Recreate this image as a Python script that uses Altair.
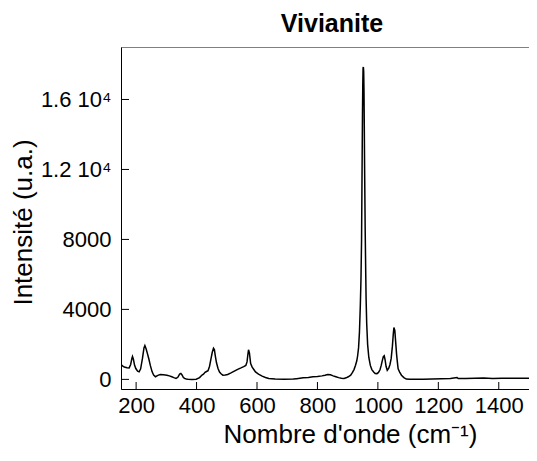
import altair as alt
import pandas as pd

wavenumber = [150, 156, 161, 170, 177, 182, 186, 188, 191, 195, 199, 205, 210, 215, 221, 226, 229, 233, 237, 242,
              247, 253, 258, 264, 272, 280, 290, 302, 310, 318, 325, 332, 338, 344, 348, 352, 356, 360, 366, 372,
              385, 399, 410, 418, 423, 428, 433, 438, 443, 448, 452, 456, 459, 462, 466, 471, 476, 481, 487, 495,
              503, 514, 525, 536, 547, 556, 563, 567, 570, 572, 575, 579, 584, 590, 595, 605, 617, 628, 639, 660,
              690, 720, 731, 753, 770, 785, 800, 815, 825, 834, 843, 852, 861, 870, 879, 888, 895, 902, 910, 916,
              921, 926, 930, 933, 936, 939, 942, 944, 946, 947, 948, 949, 950, 951, 952, 953, 954, 955, 956, 958,
              960, 961, 963, 966, 970, 975, 980, 986, 991, 997, 1002, 1007, 1011, 1015, 1018, 1021, 1024, 1027, 1031, 1036,
              1040, 1044, 1048, 1051, 1053, 1056, 1059, 1062, 1065, 1067, 1072, 1078, 1086, 1094, 1105, 1121, 1150, 1180, 1210, 1240,
              1262, 1266, 1290, 1320, 1350, 1380, 1410, 1440, 1470, 1500]
intensity = [845, 760, 710, 670, 655, 850, 1200, 1310, 1150, 800, 620, 470, 430, 600, 1200, 1800, 1930, 1750, 1500, 1180,
             800, 430, 250, 150, 230, 280, 260, 240, 200, 150, 100, 55, 120, 300, 340, 250, 120, 55, 20, 5,
             0, 5, 100, 250, 300, 400, 450, 500, 750, 1200, 1550, 1780, 1700, 1350, 950, 620, 420, 320, 240, 250,
             280, 370, 470, 570, 655, 730, 800, 1000, 1450, 1690, 1500, 900, 700, 550, 430, 300, 185, 110, 56, 20,
             10, 15, 40, 90, 110, 150, 170, 200, 240, 280, 260, 200, 150, 100, 65, 56, 90, 150, 240, 400,
             560, 805, 1050, 1350, 1800, 2700, 4300, 5690, 8000, 10400, 12800, 15080, 16800, 17800, 17850, 17600, 16500, 14500, 12200, 8500,
             5800, 4600, 3200, 2000, 1250, 800, 560, 420, 340, 330, 400, 550, 800, 1100, 1300, 1350, 1100, 750, 520, 640,
             850, 1200, 1900, 2600, 2960, 2800, 2100, 1400, 900, 600, 420, 240, 100, 20, 10, 5, 10, 20, 35, 45,
             100, 50, 50, 60, 75, 55, 70, 60, 65, 70]

x_ticks = [200, 400, 600, 800, 1000, 1200, 1400]
y_ticks = [0, 4000, 8000, 12000, 16000]

df = pd.DataFrame({"wn": wavenumber, "I": intensity})
W, H = 408, 342
FONT = "Liberation Sans"

xscale = alt.Scale(domain=[150, 1500], nice=False, zero=False)
yscale = alt.Scale(domain=[-550, 19000], nice=False, zero=False)

xaxis = alt.Axis(
    values=x_ticks, format="d", ticks=False, tickSize=0, grid=False,
    labelFontSize=22, labelPadding=23, labelBaseline="alphabetic", labelColor="black", labelFlush=False,
    title="Nombre d'onde (cm⁻¹)", titleFontSize=26, titleFontWeight="normal", titleColor="black",
    titleX=229, titleY=53, titleBaseline="alphabetic", titleAlign="center",
    domainColor="black", domainWidth=1)
yaxis = alt.Axis(
    values=y_ticks, ticks=False, tickSize=0, grid=False,
    labelExpr="datum.value >= 10000 ? format(datum.value/10000, '.1f') + ' 10⁴' : format(datum.value, 'd')",
    labelFontSize=22, labelPadding=10, labelColor="black", labelFlush=False,
    title="Intensité (u.a.)", titleFontSize=26, titleFontWeight="normal", titleColor="black",
    titleX=-98, titleY=175, titleAngle=270, titleBaseline="middle", titleAlign="center",
    domainColor="black", domainWidth=1)

line = alt.Chart(df).mark_line(color="black", strokeWidth=1.5, clip=True).encode(
    x=alt.X("wn:Q", scale=xscale, axis=xaxis, title="Nombre d'onde (cm⁻¹)"),
    y=alt.Y("I:Q", scale=yscale, axis=yaxis, title="Intensité (u.a.)"),
)

xt = alt.Chart(pd.DataFrame({"wn": x_ticks})).mark_rule(color="black", strokeWidth=1).encode(
    x=alt.X("wn:Q", scale=xscale, axis=xaxis, title="Nombre d'onde (cm⁻¹)"),
    y=alt.value(H), y2=alt.value(H - 7),
)
yt = alt.Chart(pd.DataFrame({"I": y_ticks})).mark_rule(color="black", strokeWidth=1).encode(
    y=alt.Y("I:Q", scale=yscale, axis=yaxis, title="Intensité (u.a.)"),
    x=alt.value(0), x2=alt.value(8),
)

chart = alt.layer(line, xt, yt).properties(
    width=W, height=H,
    padding={"left": 113, "top": 39, "right": 0, "bottom": 59},
    autosize=alt.AutoSizeParams(type="none"),
    title=alt.TitleParams("Vivianite", fontSize=25, fontWeight="bold", font=FONT, anchor="middle",
                          offset=10, dx=7, color="black"),
).configure(font=FONT, background="white").configure_view(stroke="#808080", strokeWidth=1)

chart.save("out.html", embed_options={"renderer": "svg", "actions": False})
